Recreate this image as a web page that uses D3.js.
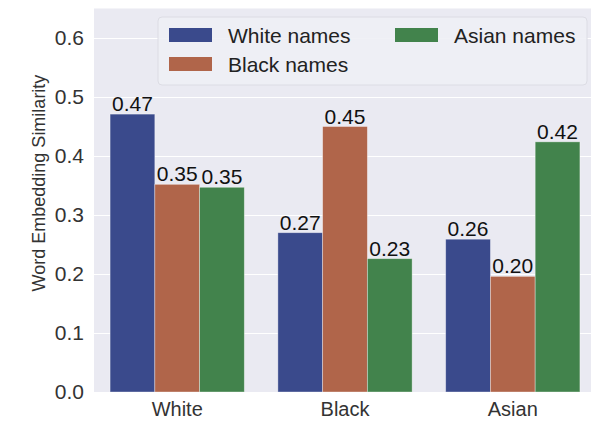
<!DOCTYPE html>
<html>
<head>
<meta charset="utf-8">
<script src="https://cdn.jsdelivr.net/npm/d3@7"></script>
<style>
  html, body { margin: 0; padding: 0; background: #ffffff; }
  svg { display: block; font-family: "Liberation Sans", Arial, Helvetica, sans-serif; }
</style>
</head>
<body>
<svg id="chart" width="595" height="425"></svg>
<script>
// Categories of the target words and the three name groups
const categories = ["White", "Black", "Asian"];
const seriesNames = ["White names", "Black names", "Asian names"];
const whiteNames = [0.471, 0.27, 0.259];
const blackNames = [0.352, 0.450, 0.196];
const asianNames = [0.347, 0.226, 0.424];
const yTicks = [0.0, 0.1, 0.2, 0.3, 0.4, 0.5, 0.6];

const colors = ["#3a4a8c", "#b0654a", "#42834c"];
const seriesValues = [whiteNames, blackNames, asianNames];

const svg = d3.select("#chart");

const plot = { left: 94, right: 591, top: 8.5, bottom: 392 };

const x = d3.scaleBand()
  .domain(categories)
  .range([93.3, 596.7])
  .paddingInner(0)
  .paddingOuter(0);

const inner = d3.scaleBand()
  .domain(seriesNames)
  .range([0, x.bandwidth() * 0.8]);

const y = d3.scaleLinear()
  .domain([0, 0.65])
  .range([plot.bottom, plot.top]);

// Plot background
svg.append("rect")
  .attr("x", plot.left)
  .attr("y", plot.top)
  .attr("width", plot.right - plot.left)
  .attr("height", plot.bottom - plot.top)
  .attr("fill", "#eaeaf2");

// Horizontal grid
const yAxis = d3.axisLeft(y)
  .tickValues(yTicks)
  .tickFormat(d3.format(".1f"))
  .tickSize(-(plot.right - plot.left))
  .tickPadding(10);

const gy = svg.append("g")
  .attr("transform", `translate(${plot.left},0)`)
  .call(yAxis);
gy.select(".domain").remove();
gy.selectAll(".tick line").attr("stroke", "#ffffff").attr("stroke-width", 1.2);
gy.selectAll(".tick text")
  .attr("fill", "#333333")
  .style("font-size", "21px");

// Bars
const rows = [];
categories.forEach((c, i) => {
  seriesNames.forEach((s, j) => {
    rows.push({ cat: c, series: s, value: seriesValues[j][i], color: colors[j] });
  });
});

const barOffset = x.bandwidth() * 0.1;

svg.append("g")
  .selectAll("rect")
  .data(rows)
  .join("rect")
  .attr("x", d => x(d.cat) + barOffset + inner(d.series))
  .attr("y", d => y(d.value))
  .attr("width", inner.bandwidth())
  .attr("height", d => y(0) - y(d.value))
  .attr("fill", d => d.color)
  .attr("stroke", "rgba(255,255,255,0.45)")
  .attr("stroke-width", 0.8);

// Value labels
svg.append("g")
  .selectAll("text")
  .data(rows)
  .join("text")
  .attr("x", d => x(d.cat) + barOffset + inner(d.series) + inner.bandwidth() / 2)
  .attr("y", d => y(d.value) - 3)
  .attr("text-anchor", "middle")
  .attr("fill", "#111111")
  .style("font-size", "21px")
  .text(d => d3.format(".2f")(d.value));

// Category axis
const xAxis = d3.axisBottom(x).tickSize(0).tickPadding(10);
const gx = svg.append("g")
  .attr("transform", `translate(0,${plot.bottom})`)
  .call(xAxis);
gx.select(".domain").remove();
gx.selectAll(".tick text")
  .attr("fill", "#333333")
  .style("font-size", "20px");

// Y axis title
svg.append("text")
  .attr("transform", "translate(45,183) rotate(-90)")
  .attr("text-anchor", "middle")
  .attr("fill", "#333333")
  .style("font-size", "18px")
  .text("Word Embedding Similarity");

// Legend
const legend = svg.append("g");
legend.append("rect")
  .attr("x", 158)
  .attr("y", 17)
  .attr("width", 429)
  .attr("height", 68)
  .attr("rx", 4)
  .attr("fill", "#eef0f5")
  .attr("fill-opacity", 0.9)
  .attr("stroke", "#dcdce4")
  .attr("stroke-width", 1);

const legendPos = [
  { x: 169, y: 28 },
  { x: 169, y: 57 },
  { x: 395, y: 28 }
];

seriesNames.forEach((s, i) => {
  const p = legendPos[i];
  legend.append("rect")
    .attr("x", p.x)
    .attr("y", p.y)
    .attr("width", 43)
    .attr("height", 14)
    .attr("fill", colors[i]);
  legend.append("text")
    .attr("x", p.x + 59)
    .attr("y", p.y + 14.5)
    .attr("fill", "#222222")
    .style("font-size", "21px")
    .text(s);
});
</script>
</body>
</html>
